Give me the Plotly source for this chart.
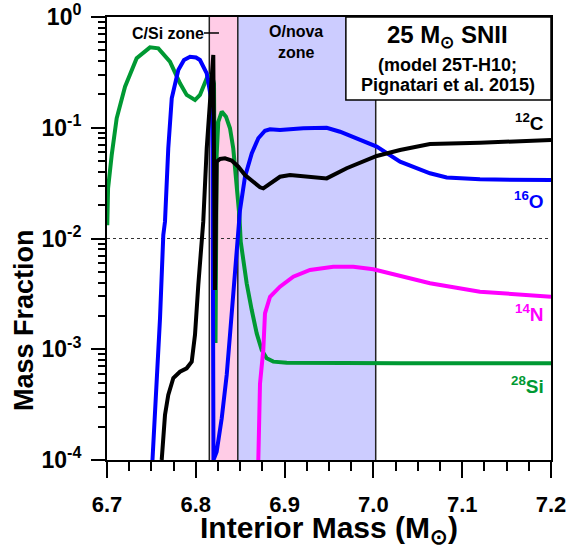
import plotly.graph_objects as go

# ---------------- data ----------------
si28_mass = [6.7003, 6.7012, 6.7053, 6.7109, 6.7203, 6.7334, 6.7484, 6.7578, 6.7709,
             6.7822, 6.7897, 6.7991, 6.8047, 6.8104, 6.8130, 6.8182, 6.8205, 6.8222,
             6.8235, 6.8253, 6.8292, 6.8340, 6.8385, 6.8422, 6.8461, 6.8490, 6.8506,
             6.8535, 6.8573, 6.8630, 6.8686, 6.8742, 6.8798, 6.8873, 6.9024, 7.0300, 7.2000]
si28_frac = [0.0132, 0.0284, 0.0568, 0.1217, 0.235, 0.424, 0.532, 0.521, 0.395,
             0.252, 0.198, 0.178, 0.198, 0.26, 0.289, 0.30, 0.25, 0.00114,
             0.057, 0.113, 0.14, 0.126, 0.099, 0.065, 0.0326, 0.0163, 0.00933,
             0.0064, 0.00394, 0.00226, 0.00139, 0.000984, 0.000828, 0.000773, 0.000757,
             0.000746, 0.000746]

o16_mass = [6.7512, 6.7597, 6.7634, 6.7653, 6.7690, 6.7729, 6.7803, 6.7867, 6.7935,
            6.8002, 6.8047, 6.8123, 6.8179, 6.8189, 6.8199, 6.8235, 6.8292, 6.8348,
            6.8385, 6.8422, 6.8467, 6.8498, 6.8554, 6.8630, 6.8704, 6.8779, 6.8836,
            6.8948, 6.9211, 6.9474, 6.9624, 6.9849, 7.0037, 7.0300, 7.0637, 7.0825,
            7.1200, 7.2000]
o16_frac = [1.0e-4, 0.0019, 0.01076, 0.0142, 0.0652, 0.1845, 0.332, 0.409, 0.438,
            0.431, 0.409, 0.31, 0.172, 0.063, 1.0e-4, 1.19e-4, 2.38e-4, 5.86e-4,
            1.35e-3, 3.3e-3, 9.7e-3, 0.0181, 0.0361, 0.0587, 0.0804, 0.094, 0.0968,
            0.0955, 0.0989, 0.100, 0.092, 0.0776, 0.0675, 0.0494, 0.0388, 0.0356,
            0.0342, 0.0337]

c12_mass = [6.7616, 6.7653, 6.7690, 6.7747, 6.7822, 6.7897, 6.7954, 6.7991, 6.8028,
            6.8066, 6.8084, 6.8123, 6.8160, 6.8197, 6.8216, 6.8235, 6.8273, 6.8329,
            6.8404, 6.8479, 6.8554, 6.8648, 6.8723, 6.8760, 6.8836, 6.8948, 6.9061,
            6.9286, 6.9474, 6.9699, 6.9886, 7.0037, 7.0300, 7.0637, 7.1200, 7.2000]
c12_frac = [1.0e-4, 2.55e-4, 3.87e-4, 5.5e-4, 6.27e-4, 6.73e-4, 7.72e-4, 1.35e-3, 3.8e-3,
            0.01076, 0.0142, 0.0652, 0.1845, 0.454, 3.43e-3, 0.0494, 0.0522, 0.053,
            0.0505, 0.0445, 0.0374, 0.0326, 0.029, 0.0284, 0.0315, 0.0361, 0.0374,
            0.0361, 0.0349, 0.0431, 0.0494, 0.0556, 0.063, 0.0713, 0.0733, 0.0774]

n14_mass = [6.8704, 6.8723, 6.8760, 6.8779, 6.8836, 6.8948, 6.9098, 6.9286, 6.9548,
            6.9774, 6.9999, 7.0300, 7.0637, 7.1200, 7.2000]
n14_frac = [1.0e-4, 4.9e-4, 9.84e-4, 2.11e-3, 2.98e-3, 3.67e-3, 4.52e-3, 5.2e-3, 5.56e-3,
            5.56e-3, 5.27e-3, 4.58e-3, 3.94e-3, 3.31e-3, 2.98e-3]

x_ticks = [6.7, 6.8, 6.9, 7.0, 7.1, 7.2]
x_tick_labels = ["6.7", "6.8", "6.9", "7.0", "7.1", "7.2"]
y_ticks = [1e-4, 1e-3, 1e-2, 1e-1, 1e0]
y_tick_labels = ["10<sup>-4</sup>", "10<sup>-3</sup>", "10<sup>-2</sup>",
                 "10<sup>-1</sup>", "10<sup>0</sup>"]

csi_zone = [6.8152, 6.8473]   # pink band
onova_zone = [6.8473, 7.0026]  # blue band

FONT = "Liberation Sans"
GREEN = "#009933"
BLUE = "#0000FF"
MAGENTA = "#FF00FF"
BLACK = "#000000"

fig = go.Figure()
for xs, ys, col in [(si28_mass, si28_frac, GREEN), (o16_mass, o16_frac, BLUE),
                    (c12_mass, c12_frac, BLACK), (n14_mass, n14_frac, MAGENTA)]:
    fig.add_trace(go.Scatter(x=xs, y=ys, mode="lines",
                             line=dict(color=col, width=4), showlegend=False))

shapes = [
    dict(type="rect", xref="x", yref="paper", x0=csi_zone[0], x1=csi_zone[1], y0=0, y1=1,
         fillcolor="#FFCCE6", line=dict(width=0), layer="below"),
    dict(type="rect", xref="x", yref="paper", x0=onova_zone[0], x1=onova_zone[1], y0=0, y1=1,
         fillcolor="#CCCCFF", line=dict(width=0), layer="below"),
    dict(type="line", xref="x", yref="paper", x0=csi_zone[0], x1=csi_zone[0], y0=0, y1=1,
         line=dict(color="#222222", width=1.5), layer="below"),
    dict(type="line", xref="x", yref="paper", x0=csi_zone[1], x1=csi_zone[1], y0=0, y1=1,
         line=dict(color="#222222", width=1.5), layer="below"),
    dict(type="line", xref="x", yref="paper", x0=onova_zone[1], x1=onova_zone[1], y0=0, y1=1,
         line=dict(color="#222222", width=1.5), layer="below"),
    dict(type="line", xref="paper", yref="paper", x0=0, x1=1, y0=0.5, y1=0.5,
         line=dict(color="#333333", width=1.2, dash="dot"), layer="below"),
    dict(type="line", xref="x", yref="paper", x0=6.8092, x1=6.8261, y0=0.9639, y1=0.9639,
         line=dict(color="black", width=1.5), layer="above"),
    dict(type="rect", xref="paper", yref="paper", x0=0.538, x1=1.0, y0=0.8126, y1=1.0,
         fillcolor="white", line=dict(color="black", width=1.5), layer="above"),
]

def ann(text, x, y, size, color="black", xanchor="center", angle=0):
    return dict(text=text, x=x, y=y, xref="paper", yref="paper", showarrow=False,
                xanchor=xanchor, yanchor="middle", textangle=angle,
                font=dict(family=FONT, size=size, color=color, weight="bold"))

annotations = [
    ann("C/Si zone", 0.137, 0.963, 16),
    ann("O/nova<br>zone", 0.4257, 0.9425, 16),
    ann("25 M<sub>⊙</sub> SNII", 0.768, 0.9555, 24),
    ann("(model 25T-H10;", 0.768, 0.8917, 18),
    ann("Pignatari et al. 2015)", 0.768, 0.8465, 18),
    ann("<sup>12</sup>C", 0.9887, 0.763, 19, BLACK, "right"),
    ann("<sup>16</sup>O", 0.9887, 0.587, 19, BLUE, "right"),
    ann("<sup>14</sup>N", 0.9887, 0.332, 19, MAGENTA, "right"),
    ann("<sup>28</sup>Si", 0.9887, 0.169, 19, GREEN, "right"),
    ann("Mass Fraction", -0.187, 0.316, 27, angle=-90),
    ann("Interior Mass (M<sub>⊙</sub>)", 0.5, -0.158, 30),
]

minor_y = [m * 10 ** e for e in range(-4, 0) for m in range(2, 10)]

fig.update_layout(
    width=568, height=549,
    margin=dict(l=107, r=17, t=17, b=89, autoexpand=False),
    paper_bgcolor="white", plot_bgcolor="white",
    shapes=shapes, annotations=annotations,
    font=dict(family=FONT, color="black"),
    xaxis=dict(range=[6.7, 7.2], tickvals=x_ticks, ticktext=x_tick_labels,
               automargin=False, ticklabelstandoff=8, ticklabeloverflow="allow",
               ticks="outside", ticklen=16, tickwidth=2, tickcolor="black",
               showline=True, linecolor="black", linewidth=2, mirror=True,
               showgrid=False, zeroline=False,
               tickfont=dict(family=FONT, size=22, weight="bold"),
               minor=dict(tick0=6.7, dtick=0.025, ticks="outside", ticklen=9,
                          tickwidth=1.5, tickcolor="black", showgrid=False)),
    yaxis=dict(type="log", range=[-4, 0], tickvals=y_ticks, ticktext=y_tick_labels,
               automargin=False, ticklabelstandoff=5, ticklabeloverflow="allow",
               ticks="outside", ticklen=14, tickwidth=2, tickcolor="black",
               showline=True, linecolor="black", linewidth=2, mirror=True,
               showgrid=False, zeroline=False,
               tickfont=dict(family=FONT, size=23, weight="bold"),
               minor=dict(tickmode="array", tickvals=minor_y, ticks="outside", ticklen=7,
                          tickwidth=1.5, tickcolor="black", showgrid=False)),
)

fig.write_html("out.html", config={"displayModeBar": False},
               post_script="document.body.style.margin='0';document.body.style.overflow='hidden';")
